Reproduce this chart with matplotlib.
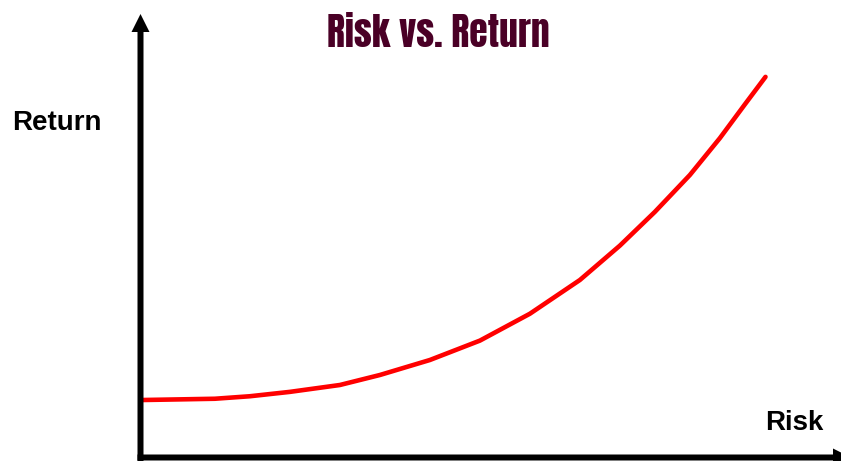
import numpy as np
import matplotlib
matplotlib.use("Agg")
import matplotlib.pyplot as plt
from matplotlib.patches import FancyArrow
from matplotlib.transforms import Affine2D

# risk / return curve (arbitrary units, origin at the axis corner)
risk = [0.04, 0.63, 1.19, 1.75, 2.39, 3.19, 3.83, 4.63, 5.43, 6.23,
        7.03, 7.67, 8.23, 8.79, 9.27, 9.67, 10.0]
ret = [0.92, 0.93, 0.94, 0.98, 1.05, 1.16, 1.32, 1.56, 1.87, 2.30,
       2.84, 3.39, 3.93, 4.52, 5.11, 5.65, 6.09]

title = "Risk vs. Return"
xlabel = "Risk"
ylabel = "Return"

W, H = 841, 461
DPI = 100


def px(x, y):
    # pixel position -> figure fraction
    return (x / W, 1 - y / H)


fig = plt.figure(figsize=(W / DPI, H / DPI), dpi=DPI)
ax = fig.add_axes([0, 0, 1, 1])
ax.set_xlim(-2.248, 11.208)
ax.set_ylim(-0.056, 7.32)
ax.axis("off")

ax.plot(risk, ret, color="#ff0000", lw=3.3, solid_capstyle="round",
        solid_joinstyle="round")

# axes arrows, laid out in image pixels (y down)
pix = Affine2D().scale(1 / DPI, -1 / DPI).translate(0, H / DPI) + fig.dpi_scale_trans
arrow_kw = dict(width=6, head_width=18, head_length=18, length_includes_head=True,
                color="black", lw=0, transform=pix)
fig.patches.append(FancyArrow(140.5, 470, 0, 14 - 470, **arrow_kw))
fig.patches.append(FancyArrow(137.5, 457.5, 851 - 137.5, 0, **arrow_kw))

fig.text(*px(438, 33), title, ha="center", va="center", fontsize=27,
         color="#4a0026", family=["Anton", "DejaVu Sans"])
fig.text(*px(57, 123), ylabel, ha="center", va="center", fontsize=20,
         fontweight="bold", family=["Liberation Sans", "DejaVu Sans"])
fig.text(*px(794, 423), xlabel, ha="center", va="center", fontsize=20,
         fontweight="bold", family=["Liberation Sans", "DejaVu Sans"])

fig.savefig("out.png", dpi=DPI)
plt.close(fig)
